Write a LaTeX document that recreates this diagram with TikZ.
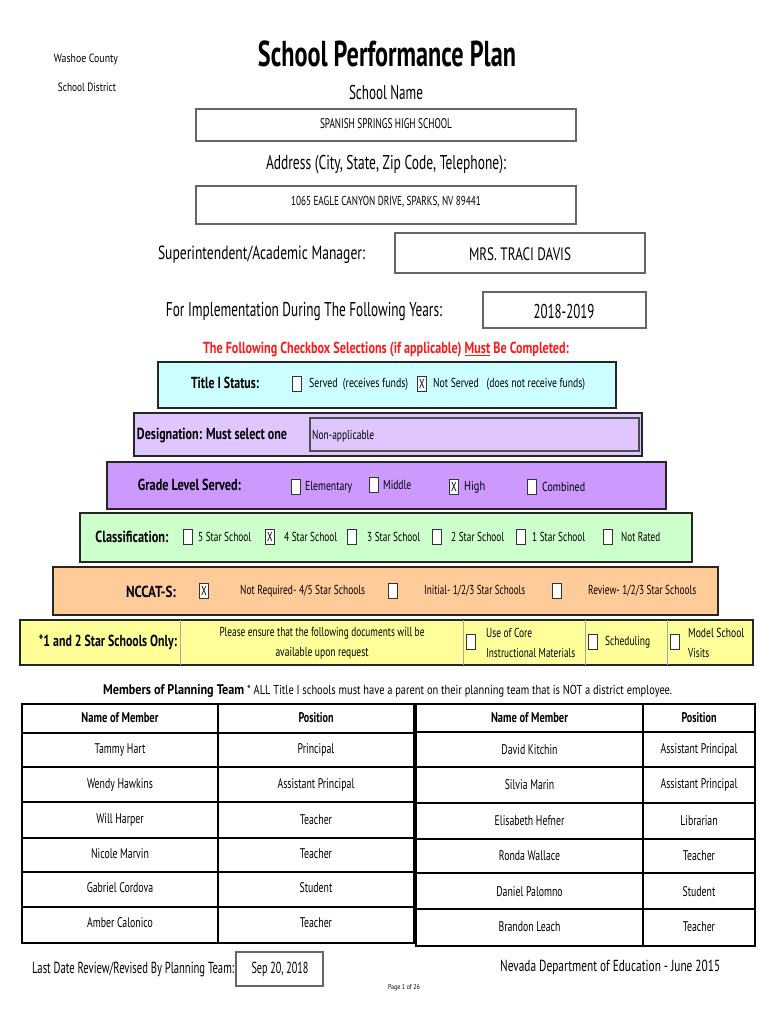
\documentclass[tikz,border=0pt]{standalone}
\usepackage{fontspec}
\usepackage{graphicx}
\setmainfont{PT Sans}[FakeStretch=0.7]
\newcommand\fz[1]{\fontsize{#1}{#1}\selectfont}
\newcommand\hx[2]{\resizebox{#1pt}{\height}{#2}}
\definecolor{cyanband}{HTML}{CCFFFF}
\definecolor{lavband}{HTML}{E0C6FF}
\definecolor{purpband}{HTML}{CC99FF}
\definecolor{greenband}{HTML}{CCFFCC}
\definecolor{orangeband}{HTML}{FFCC99}
\definecolor{yellowband}{HTML}{FFFF99}
\definecolor{redtxt}{HTML}{FF1A1A}
\tikzset{
  txt/.style={inner sep=0pt, font=\fz{13}},
  lft/.style={txt, anchor=west},
  hd/.style={inner sep=0pt, font=\bfseries\fz{16}},
  bx/.style={draw=black!60, line width=1.6pt},
  band/.style={draw=black!85, line width=1.5pt},
  cb/.style={draw=black!80, line width=0.7pt, fill=white, minimum width=9pt, minimum height=15pt, inner sep=0pt, font=\fz{13}},
  gridl/.style={line width=1.5pt, draw=black},
  cell/.style={inner sep=0pt, font=\fz{14}},
  hcell/.style={inner sep=0pt, font=\bfseries\fz{14}}
}
\begin{document}
\begin{tikzpicture}[x=1pt,y=-1pt]
\useasboundingbox[fill=white] (0,0) rectangle (770,1024);
% header
\node[txt, font=\fz{12}] (wc) at (86,59) {\hx{64}{Washoe County}};
\node[txt, font=\fz{12}] (sd) at (87,87) {\hx{58}{School District}};
\node[txt, font=\bfseries\fz{36}] (title) at (387,54) {\hx{258}{School Performance Plan}};
\node[txt, font=\fz{20}] (sn) at (386,93) {\hx{74}{School Name}};
\draw[bx] (196,109) rectangle (576,141);
\node[txt, font=\fz{14}] (snv) at (386,124) {\hx{132}{SPANISH SPRINGS HIGH SCHOOL}};
\node[txt, font=\fz{20}] (ad) at (386,165) {\hx{240}{Address (City, State, Zip Code, Telephone):}};
\draw[bx] (196,186) rectangle (576,224);
\node[txt, font=\fz{13}] (adv) at (386,202) {\hx{190}{1065 EAGLE CANYON DRIVE, SPARKS, NV 89441}};
\node[txt, font=\fz{19}] (sup) at (261.5,255) {\hx{207}{Superintendent/Academic Manager:}};
\draw[bx] (395,233) rectangle (645,273);
\node[txt, font=\fz{18}] (supv) at (520,254) {\hx{102}{MRS. TRACI DAVIS}};
\node[txt, font=\fz{20}] (imp) at (304,312) {\hx{276}{For Implementation During The Following Years:}};
\draw[bx] (483,292) rectangle (646,328);
\node[txt, font=\fz{20}] (impv) at (564,311) {\hx{61}{2018-2019}};
% red line
\node[hd, text=redtxt] (red) at (386,350) {\hx{366}{The Following Checkbox Selections (if applicable) \underline{Must} Be Completed:}};
% Title I band
\draw[band, fill=cyanband] (158,362) rectangle (616,408);
\node[hd] (t1) at (225,383) {\hx{68}{Title I Status:}};
\node[cb] (t1a) at (297,384) {};
\node[lft] (t1at) at (309,384) {\hx{99}{Served\ \ (receives funds)}};
\node[cb] (t1b) at (422,384) {X};
\node[lft] (t1bt) at (433,384) {\hx{152}{Not Served\ \ \ (does not receive funds)}};
% Designation band
\draw[band, fill=lavband] (134,413) rectangle (642,456);
\node[hd] (des) at (212,436) {\hx{150}{Designation: Must select one}};
\draw[draw=black!70, line width=1.2pt] (310,418) rectangle (639,451);
\node[lft] (desv) at (312,436) {\hx{62}{Non-applicable}};
% Grade band
\draw[band, fill=purpband] (107,462) rectangle (666,509);
\node[hd] (gl) at (189.5,485) {\hx{103}{Grade Level Served:}};
\node[cb] (g1) at (296,487) {};
\node[lft] (g1t) at (305,487) {\hx{47}{Elementary}};
\node[cb] (g2) at (374,485) {};
\node[lft] (g2t) at (383,485) {\hx{28}{Middle}};
\node[cb] (g3) at (454,487) {X};
\node[lft] (g3t) at (464,487) {\hx{21}{High}};
\node[cb] (g4) at (532,487) {};
\node[lft] (g4t) at (542,487) {\hx{43}{Combined}};
% Classification band
\draw[band, fill=greenband] (80,513) rectangle (692,562);
\node[hd] (cl) at (132,537) {\hx{73}{Classification:}};
\node[cb] (c5) at (188,537) {};
\node[lft] (c5t) at (198,537) {\hx{53}{5 Star School}};
\node[cb] (c4) at (270,537) {X};
\node[lft] (c4t) at (284,537) {\hx{53}{4 Star School}};
\node[cb] (c3) at (352,537) {};
\node[lft] (c3t) at (367,537) {\hx{53}{3 Star School}};
\node[cb] (c2) at (437,537) {};
\node[lft] (c2t) at (451,537) {\hx{53}{2 Star School}};
\node[cb] (c1) at (521,537) {};
\node[lft] (c1t) at (532,537) {\hx{53}{1 Star School}};
\node[cb] (c0) at (608,537) {};
\node[lft] (c0t) at (621,537) {\hx{39}{Not Rated}};
% NCCAT band
\draw[band, fill=orangeband] (53,567) rectangle (718,615);
\node[hd] (nc) at (151,592) {\hx{50}{NCCAT-S:}};
\node[cb] (n1) at (204,591) {X};
\node[lft] (n1t) at (240,591) {\hx{125}{Not Required- 4/5 Star Schools}};
\node[cb] (n2) at (393,591) {};
\node[lft] (n2t) at (424,591) {\hx{101}{Initial- 1/2/3 Star Schools}};
\node[cb] (n3) at (557,591) {};
\node[lft] (n3t) at (588,591) {\hx{108}{Review- 1/2/3 Star Schools}};
% Yellow band
\draw[band, fill=yellowband] (20,620) rectangle (753,665);
\foreach \xx in {180,463,585,667} \draw[black!35, line width=0.6pt] (\xx,620) -- (\xx,665);
\node[hd] (ys) at (108,642) {\hx{138}{*1 and 2 Star Schools Only:}};
\node[txt] (pe1) at (322,633) {\hx{205}{Please ensure that the following documents will be}};
\node[txt] (pe2) at (322,653) {\hx{93}{available upon request}};
\node[cb] (y1) at (471,642) {};
\node[lft] (y1a) at (486,633) {\hx{46}{Use of Core}};
\node[lft] (y1b) at (486,653) {\hx{89}{Instructional Materials}};
\node[cb] (y2) at (593,642) {};
\node[lft] (y2t) at (605,642) {\hx{45}{Scheduling}};
\node[cb] (y3) at (675,642) {};
\node[lft] (y3a) at (688,633) {\hx{56}{Model School}};
\node[lft] (y3b) at (688,653) {\hx{21}{Visits}};
% Members
\node[lft, font=\bfseries\fz{14}] (mp) at (103,691) {\hx{141}{Members of Planning Team}};
\node[lft] (mpn) at (247,691) {\hx{425}{* ALL Title I schools must have a parent on their planning team that is NOT a district employee.}};
% left table
\draw[gridl] (22,704) rectangle (414,943);
\foreach \yy in {733,767,802,838,872,907} \draw[gridl] (22,\yy) -- (414,\yy);
\draw[gridl] (218,704) -- (218,943);
\node[hcell] (lh1) at (120,718) {\hx{77}{Name of Member}};
\node[hcell] (lh2) at (316,718) {\hx{35}{Position}};
\foreach \yy/\nm/\ps [count=\i] in {750/Tammy Hart/Principal, 785/Wendy Hawkins/Assistant Principal, 820/Will Harper/Teacher, 854/Nicole Marvin/Teacher, 888/Gabriel Cordova/Student, 923/Amber Calonico/Teacher}{
  \node[cell] (ln\i) at (120,\yy) {\nm};
  \node[cell] (lp\i) at (316,\yy) {\ps};
}
% right table
\draw[gridl] (416,704) rectangle (755,946);
\foreach \yy in {732,767,803,839,873,909} \draw[gridl] (416,\yy) -- (755,\yy);
\draw[gridl] (643,704) -- (643,946);
\node[hcell] (rh1) at (529.5,718) {\hx{77}{Name of Member}};
\node[hcell] (rh2) at (699,718) {\hx{35}{Position}};
\foreach \yy/\nm/\ps [count=\i] in {750/David Kitchin/Assistant Principal, 785/Silvia Marin/Assistant Principal, 821/Elisabeth Hefner/Librarian, 856/Ronda Wallace/Teacher, 892/Daniel Palomno/Student, 927/Brandon Leach/Teacher}{
  \node[cell] (rn\i) at (529.5,\yy) {\nm};
  \node[cell] (rp\i) at (699,\yy) {\ps};
}
% footer
\node[lft, font=\fz{16}] (ld) at (32,969) {\hx{202}{Last Date Review/Revised By Planning Team:}};
\draw[bx, line width=1.3pt] (236,952) rectangle (323,986);
\node[txt, font=\fz{16}] (ldv) at (280,969) {\hx{57}{Sep 20, 2018}};
\node[lft, font=\fz{16}] (nde) at (500,967) {\hx{220}{Nevada Department of Education - June 2015}};
\node[txt, font=\fz{7}] (pg) at (404,988) {\hx{32}{Page 1 of 26}};
\end{tikzpicture}
\end{document}
